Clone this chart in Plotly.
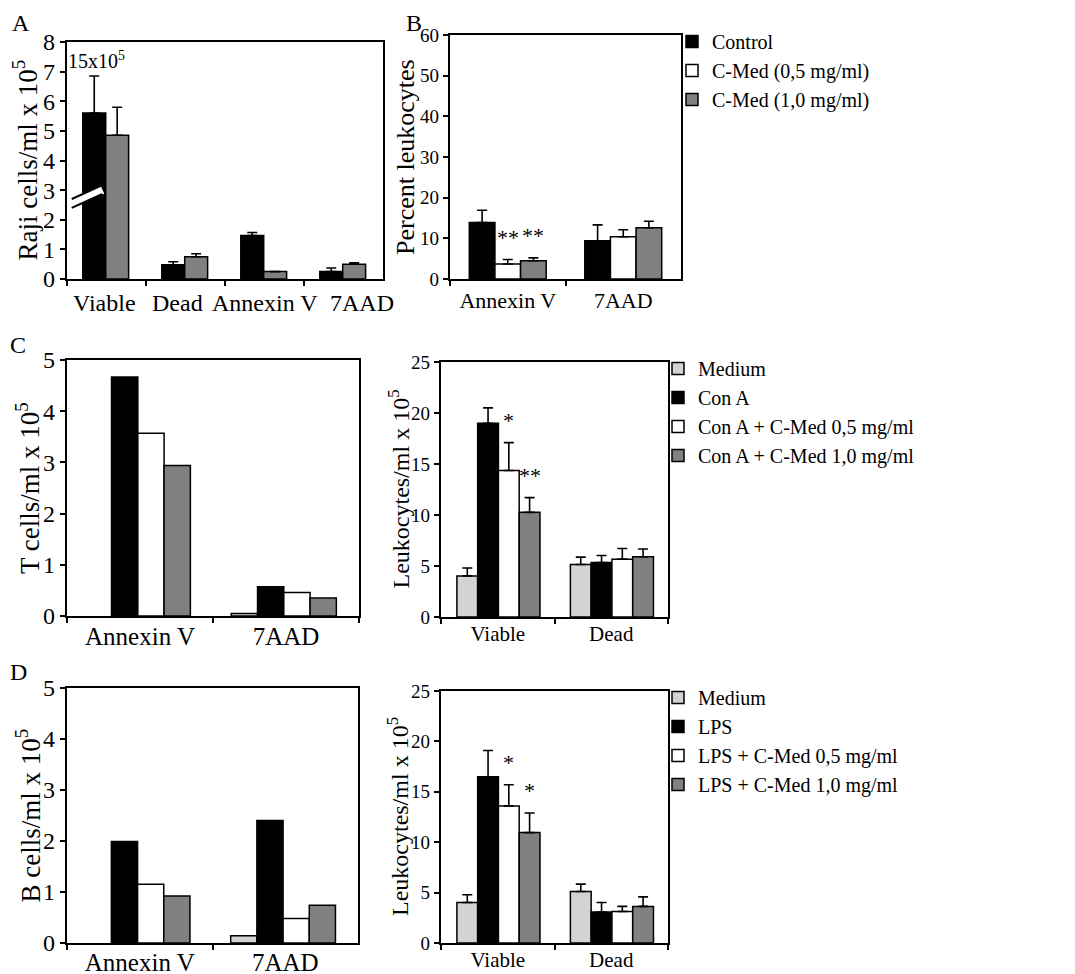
import plotly.graph_objects as go

# ---------------- DATA ----------------
A_categories = ["Viable", "Dead", "Annexin V", "7AAD"]
A_control = [5.6, 0.48, 1.47, 0.25]
A_control_err = [1.25, 0.10, 0.10, 0.12]
A_cmed10 = [4.85, 0.75, 0.25, 0.50]
A_cmed10_err = [0.95, 0.10, None, 0.05]

B_categories = ["Annexin V", "7AAD"]
B_control = [13.9, 9.4]
B_control_err = [3.0, 3.9]
B_cmed05 = [3.7, 10.4]
B_cmed05_err = [1.1, 1.7]
B_cmed10 = [4.5, 12.6]
B_cmed10_err = [0.7, 1.6]
B_cmed05_stars = ["**", ""]
B_cmed10_stars = ["**", ""]

CL_categories = ["Annexin V", "7AAD"]
CL_medium = [None, 0.05]
CL_cona = [4.67, 0.57]
CL_cona05 = [3.57, 0.46]
CL_cona10 = [2.94, 0.35]

CR_categories = ["Viable", "Dead"]
CR_medium = [4.03, 5.15]
CR_medium_err = [0.77, 0.72]
CR_cona = [19.0, 5.34]
CR_cona_err = [1.5, 0.69]
CR_cona05 = [14.36, 5.67]
CR_cona05_err = [2.74, 1.05]
CR_cona10 = [10.26, 5.9]
CR_cona10_err = [1.44, 0.76]
CR_cona05_stars = ["*", ""]
CR_cona10_stars = ["**", ""]

DL_categories = ["Annexin V", "7AAD"]
DL_medium = [None, 0.14]
DL_lps = [1.99, 2.4]
DL_lps05 = [1.15, 0.48]
DL_lps10 = [0.92, 0.74]

DR_categories = ["Viable", "Dead"]
DR_medium = [4.02, 5.11]
DR_medium_err = [0.76, 0.73]
DR_lps = [16.5, 3.07]
DR_lps_err = [2.6, 0.95]
DR_lps05 = [13.6, 3.13]
DR_lps05_err = [2.1, 0.5]
DR_lps10 = [10.95, 3.63]
DR_lps10_err = [1.95, 0.95]
DR_lps05_stars = ["*", ""]
DR_lps10_stars = ["*", ""]

Y_TITLES = {
    "A": "Raji cells/ml x 10<sup>5</sup>",
    "B": "Percent leukocytes",
    "CL": "T cells/ml x 10<sup>5</sup>",
    "CR": "Leukocytes/ml x 10<sup>5</sup>",
    "DL": "B cells/ml x 10<sup>5</sup>",
    "DR": "Leukocytes/ml x 10<sup>5</sup>",
}

# ---------------- STYLE ----------------
BLACK = "#000000"
WHITE = "#ffffff"
GRAY = "#808080"
LIGHT = "#d3d3d3"
FONT = "Liberation Serif"
PAGE_MARGIN = 8          # default body margin of the html page
W, H = 1075 - 2 * PAGE_MARGIN, 974 - PAGE_MARGIN
A_LABEL_SHIFTS = [-2, -8, 0, 18]   # px nudges of panel A category labels (crowded in reference)

fig = go.Figure()
annotations = []
shapes = []


def px(x):
    return (x - PAGE_MARGIN) / W


def py(y):
    return 1 - (y - PAGE_MARGIN) / H


def add_panel(xa, ya, categories, series, start, width, legend=None, star_pad=22):
    for i, s in enumerate(series):
        off = start + i * width
        err = s.get("err")
        kw = {}
        if err is not None:
            kw["error_y"] = dict(type="data", symmetric=False, array=err,
                                 arrayminus=[0] * len(err), color=BLACK,
                                 thickness=1.6, width=5)
        fig.add_trace(go.Bar(
            x=categories, y=s["y"], name=s["name"],
            xaxis=xa, yaxis=ya, offset=off, width=width,
            marker=dict(color=s["color"], line=dict(color=BLACK, width=1.5)),
            showlegend=legend is not None,
            legend=legend if legend else "legend",
            hoverinfo="skip", **kw))
        stars = s.get("stars")
        if stars:
            for j, st in enumerate(stars):
                if not st:
                    continue
                top = s["y"][j] + (err[j] if err and err[j] else 0)
                annotations.append(dict(
                    x=j + off + width / 2, y=top, xref=xa, yref=ya,
                    text=st, showarrow=False, xanchor="center", yanchor="middle",
                    yshift=star_pad, font=dict(family=FONT, size=22, color=BLACK)))


def dom_x(a, b):
    return [px(a), px(b)]


def dom_y(top, bottom):
    return [py(bottom), py(top)]


def yax(domain, anchor, rng, dtick, tsize):
    return dict(domain=domain, anchor=anchor, range=rng, dtick=dtick, automargin=False,
                showline=True, linecolor=BLACK, linewidth=2.2, mirror=True,
                ticks="outside", ticklen=5, tickwidth=1.5, tickcolor=BLACK,
                showgrid=False, zeroline=False,
                tickfont=dict(family=FONT, size=tsize, color=BLACK))


def xax(domain, anchor, tsize, categories, standoff=0, showlabels=True):
    return dict(domain=domain, anchor=anchor, type="category", automargin=False,
                range=[-0.5, len(categories) - 0.5], autorange=False,
                showline=True, linecolor=BLACK, linewidth=2.2, mirror=True,
                ticks="outside", ticklen=5, tickwidth=1.5, tickcolor=BLACK,
                tickson="boundaries", tickangle=0, showgrid=False, zeroline=False,
                categoryorder="array", categoryarray=categories,
                showticklabels=showlabels, ticklabelstandoff=standoff,
                tickfont=dict(family=FONT, size=tsize, color=BLACK))


def ytitle(text, cx, top, bottom, size):
    annotations.append(dict(x=px(cx), y=py((top + bottom) / 2), xref="paper", yref="paper",
                            text=text, textangle=-90, showarrow=False,
                            xanchor="center", yanchor="middle",
                            font=dict(family=FONT, size=size, color=BLACK)))


# Panel A
add_panel("x", "y", A_categories, [
    dict(name="Control", y=A_control, err=A_control_err, color=BLACK),
    dict(name="C-Med (1,0 mg/ml)", y=A_cmed10, err=A_cmed10_err, color=GRAY),
], start=-0.30, width=0.29)
# panel A category labels (crowded in the reference, so nudged individually)
for idx, (cat, shift) in enumerate(zip(A_categories, A_LABEL_SHIFTS)):
    annotations.append(dict(x=idx, y=0, xref="x", yref="y", text=cat, showarrow=False,
                            xanchor="center", yanchor="top", xshift=shift, yshift=-9,
                            font=dict(family=FONT, size=24, color=BLACK)))

# Panel B
add_panel("x2", "y2", B_categories, [
    dict(name="Control", y=B_control, err=B_control_err, color=BLACK),
    dict(name="C-Med (0,5 mg/ml)", y=B_cmed05, err=B_cmed05_err, color=WHITE, stars=B_cmed05_stars),
    dict(name="C-Med (1,0 mg/ml)", y=B_cmed10, err=B_cmed10_err, color=GRAY, stars=B_cmed10_stars),
], start=-0.333, width=0.222, legend="legend", star_pad=22)

# Panel C left
add_panel("x3", "y3", CL_categories, [
    dict(name="Medium", y=CL_medium, color=LIGHT),
    dict(name="Con A", y=CL_cona, color=BLACK),
    dict(name="Con A + C-Med 0,5 mg/ml", y=CL_cona05, color=WHITE),
    dict(name="Con A + C-Med 1,0 mg/ml", y=CL_cona10, color=GRAY),
], start=-0.375, width=0.18)

# Panel C right
add_panel("x4", "y4", CR_categories, [
    dict(name="Medium", y=CR_medium, err=CR_medium_err, color=LIGHT),
    dict(name="Con A", y=CR_cona, err=CR_cona_err, color=BLACK),
    dict(name="Con A + C-Med 0,5 mg/ml", y=CR_cona05, err=CR_cona05_err, color=WHITE, stars=CR_cona05_stars),
    dict(name="Con A + C-Med 1,0 mg/ml", y=CR_cona10, err=CR_cona10_err, color=GRAY, stars=CR_cona10_stars),
], start=-0.36, width=0.183, legend="legend2", star_pad=22)

# Panel D left
add_panel("x5", "y5", DL_categories, [
    dict(name="Medium", y=DL_medium, color=LIGHT),
    dict(name="LPS", y=DL_lps, color=BLACK),
    dict(name="LPS + C-Med 0,5 mg/ml", y=DL_lps05, color=WHITE),
    dict(name="LPS + C-Med 1,0 mg/ml", y=DL_lps10, color=GRAY),
], start=-0.375, width=0.18)

# Panel D right
add_panel("x6", "y6", DR_categories, [
    dict(name="Medium", y=DR_medium, err=DR_medium_err, color=LIGHT),
    dict(name="LPS", y=DR_lps, err=DR_lps_err, color=BLACK),
    dict(name="LPS + C-Med 0,5 mg/ml", y=DR_lps05, err=DR_lps05_err, color=WHITE, stars=DR_lps05_stars),
    dict(name="LPS + C-Med 1,0 mg/ml", y=DR_lps10, err=DR_lps10_err, color=GRAY, stars=DR_lps10_stars),
], start=-0.36, width=0.183, legend="legend3", star_pad=22)

# y-axis titles
ytitle(Y_TITLES["A"], 25, 42, 279, 27)
ytitle(Y_TITLES["B"], 405, 35, 279, 26)
ytitle(Y_TITLES["CL"], 28, 360, 616, 27)
ytitle(Y_TITLES["CR"], 398, 362, 617, 24)
ytitle(Y_TITLES["DL"], 28, 688, 943, 27)
ytitle(Y_TITLES["DR"], 398, 691, 943, 24)

# Axis break mark on panel A (decoration)
shapes.append(dict(type="line", xref="x domain", yref="y", x0=0.015, x1=0.112, y0=2.55, y1=3.02,
                   line=dict(color=WHITE, width=9), layer="above"))
shapes.append(dict(type="line", xref="x domain", yref="y", x0=0.015, x1=0.112, y0=2.40, y1=2.87,
                   line=dict(color=BLACK, width=2), layer="above"))
shapes.append(dict(type="line", xref="x domain", yref="y", x0=0.015, x1=0.112, y0=2.70, y1=3.17,
                   line=dict(color=BLACK, width=2), layer="above"))

annotations.append(dict(x=0.093, y=7.4, xref="x domain", yref="y", text="15x10<sup>5</sup>",
                        showarrow=False, xanchor="center", yanchor="middle",
                        font=dict(family=FONT, size=20, color=BLACK)))

# panel letters
for letter, lx, ly in [("A", 10, 8), ("B", 404, 8), ("C", 8, 330), ("D", 8, 657)]:
    annotations.append(dict(x=px(lx), y=py(ly), xref="paper", yref="paper", text=letter,
                            showarrow=False, xanchor="left", yanchor="top",
                            font=dict(family=FONT, size=24, color=BLACK)))

legend_style = dict(xanchor="left", yanchor="top", bgcolor="rgba(0,0,0,0)", borderwidth=0,
                    font=dict(family=FONT, size=20, color=BLACK), tracegroupgap=0,
                    itemwidth=30, traceorder="normal")

fig.update_layout(
    width=W, height=H, margin=dict(l=0, r=0, t=0, b=0),
    paper_bgcolor=WHITE, plot_bgcolor=WHITE, barmode="overlay",
    font=dict(family=FONT, color=BLACK),
    xaxis=xax(dom_x(67, 383), "y", 24, A_categories, showlabels=False),
    yaxis=yax(dom_y(42, 279), "x", [0, 8], 1, 24),
    xaxis2=xax(dom_x(450, 681), "y2", 22, B_categories),
    yaxis2=yax(dom_y(35, 279), "x2", [0, 60], 10, 19),
    xaxis3=xax(dom_x(67, 359), "y3", 25, CL_categories, standoff=-3),
    yaxis3=yax(dom_y(360, 616), "x3", [0, 5], 1, 24),
    xaxis4=xax(dom_x(441, 668), "y4", 21, CR_categories, standoff=-3),
    yaxis4=yax(dom_y(362, 617), "x4", [0, 25], 5, 19),
    xaxis5=xax(dom_x(67, 358), "y5", 25, DL_categories, standoff=-4),
    yaxis5=yax(dom_y(688, 943), "x5", [0, 5], 1, 24),
    xaxis6=xax(dom_x(441, 668), "y6", 21, DR_categories, standoff=-3),
    yaxis6=yax(dom_y(691, 943), "x6", [0, 25], 5, 19),
    legend=dict(x=px(672), y=py(22), **legend_style),
    legend2=dict(x=px(658), y=py(349), **legend_style),
    legend3=dict(x=px(658), y=py(678), **legend_style),
    annotations=annotations, shapes=shapes,
)

fig.write_html("out.html")
